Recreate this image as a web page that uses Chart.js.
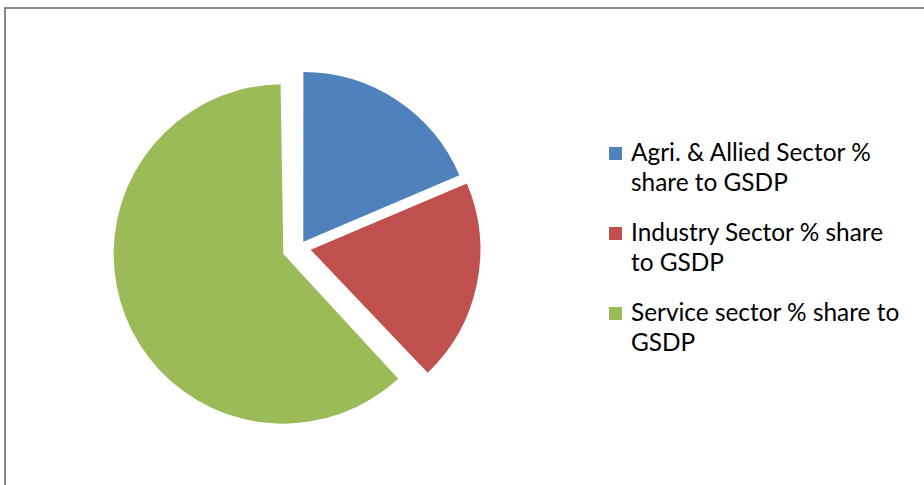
<!DOCTYPE html>
<html>
<head>
<meta charset="utf-8">
<script src="https://cdn.jsdelivr.net/npm/chart.js@4"></script>
<style>
    html, body { margin: 0; padding: 0; background: #fff; overflow: hidden; }
    body { width: 924px; height: 485px; position: relative; }
    .frame {
        position: absolute; left: 4px; top: 7px; width: 1000px; height: 600px;
        border-top: 2px solid #878787; border-left: 2px solid #878787;
    }
    #pieWrap { position: absolute; left: 95px; top: 43px; width: 409px; height: 409px; }
    #legend {
        position: absolute; left: 609px; top: 137px;
        font-family: Lato, "Open Sans", sans-serif; font-size: 24.4px; line-height: 30px; color: #000;
    }
    .item { position: relative; padding-left: 22px; margin-bottom: 20px; width: 275px; }
    .box { position: absolute; left: 0; top: 10px; width: 13px; height: 13px; }
</style>
</head>
<body>
<div class="frame"></div>
<div id="pieWrap"><canvas id="chartGSDP" width="409" height="409"></canvas></div>
<div id="legend"></div>

<script>
const sectors = [
    "Agri. & Allied Sector % share to GSDP",
    "Industry Sector % share to GSDP",
    "Service sector % share to GSDP"
];
const shares = [18.6, 19.3, 62.1];
const sliceColors = ["#4f81bd", "#c0504d", "#9bbb59"];

// Chart.js grows the radius of big exploded slices; keep every slice the same size
const arcDraw = Chart.ArcElement.prototype.draw;
Chart.ArcElement.prototype.draw = function (ctx) {
    const grow = (this.options.offset || 0) / 4 * (1 - Math.sin(Math.min(Math.PI, this.circumference || 0)));
    this.outerRadius -= grow;
    arcDraw.call(this, ctx);
    this.outerRadius += grow;
};

function drawChart() {
    const ctx = document.getElementById("chartGSDP");
    new Chart(ctx, {
        type: 'pie',
        data: {
            labels: sectors,
            datasets: [{
                data: shares,
                backgroundColor: sliceColors,
                borderWidth: 0,
                hoverBorderWidth: 0,
                hoverOffset: 0,
                offset: [27.6, 45.6, 69.6]
            }]
        },
        options: {
            responsive: false,
            animation: false,
            devicePixelRatio: 1,
            layout: { padding: 0 },
            plugins: {
                legend: { display: false },
                tooltip: { enabled: false }
            }
        }
    });
}

function renderLegend() {
    const el = document.getElementById("legend");
    el.innerHTML = sectors.map((s, i) => `
        <div class="item">
            <span class="box" style="background:${sliceColors[i]}"></span>${s}
        </div>
    `).join('');
}

renderLegend();
drawChart();
</script>
</body>
</html>
